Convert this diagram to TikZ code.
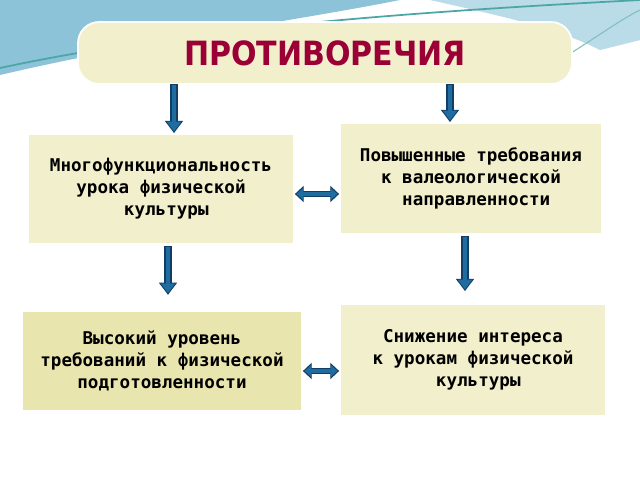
\documentclass[tikz,border=0pt]{standalone}
\usepackage{fontspec}
\setmainfont{DejaVu Sans Mono}
\newfontfamily\titlefont{DejaVu Sans Condensed}
\usetikzlibrary{arrows.meta}
\definecolor{boxfill}{HTML}{F2F0CC}
\definecolor{boxdark}{HTML}{E9E5AE}
\definecolor{arrowblue}{HTML}{1F6CA0}
\definecolor{arrowedge}{HTML}{123E66}
\definecolor{titlered}{HTML}{9A0036}
\definecolor{swoosh}{HTML}{8CC3D8}
\begin{document}
\begin{tikzpicture}[x=0.02cm,y=-0.02cm,
    textbox/.style={fill=boxfill, draw=white, line width=1pt, align=center,
      font=\bfseries\fontsize{10}{12.5}\selectfont, inner sep=0pt},
    blockarrow/.style={line width=4.2pt, draw=arrowedge, -{Triangle[length=7pt,width=10pt]},
      postaction={draw=arrowblue, line width=2.8pt, shorten >=1pt, shorten <=0.6pt,
        -{Triangle[length=5.6pt,width=8pt]}}},
    twoarrow/.style={line width=3.4pt, draw=arrowedge, {Triangle[length=5pt,width=9pt]}-{Triangle[length=5pt,width=9pt]},
      postaction={draw=arrowblue, line width=2pt, shorten >=1pt, shorten <=1pt,
        {Triangle[length=3.8pt,width=6.6pt]}-{Triangle[length=3.8pt,width=6.6pt]}}}]
  \useasboundingbox (0,0) rectangle (640,480);
  \fill[white] (0,0) rectangle (640,480);
  % background swoosh
  \fill[swoosh] (0,0) -- (400,0) .. controls (300,20) and (150,40) .. (0,75) -- cycle;
  \fill[swoosh!60] (430,0) .. controls (520,20) and (560,30) .. (600,50) -- (640,40) -- (640,0) -- cycle;
  \draw[teal!70, line width=1pt] (0,68) .. controls (200,25) and (450,10) .. (640,0);
  \draw[teal!50, line width=0.6pt] (560,60) .. controls (600,35) and (620,20) .. (640,10);
  %nodes
  \node[textbox, rounded corners=12pt, minimum width=494*0.02cm, minimum height=62*0.02cm,
        font=\titlefont\bfseries\fontsize{19}{22}\selectfont, text=titlered]
        (title) at (325,53) {ПРОТИВОРЕЧИЯ};
  \node[textbox, minimum width=266*0.02cm, minimum height=110*0.02cm] (multi) at (161,189)
        {Многофункциональность\\урока физической\\ \ культуры};
  \node[textbox, minimum width=262*0.02cm, minimum height=111*0.02cm] (demand) at (471,178.5)
        {Повышенные требования \\к валеологической \\ \ направленности};
  \node[textbox, fill=boxdark, minimum width=280*0.02cm, minimum height=100*0.02cm] (level) at (162,361)
        {Высокий уровень \\требований к физической\\подготовленности};
  \node[textbox, minimum width=266*0.02cm, minimum height=112*0.02cm] (interest) at (473,360)
        {Снижение интереса \\ к урокам физической \\ \ культуры};
  %arrows
  \coordinate (t1) at (174,84);
  \coordinate (t2) at (450,84);
  \coordinate (m1) at (168,246);
  \coordinate (m2) at (465,236);
  \draw[blockarrow] (t1) -- (multi.north -| t1);
  \draw[blockarrow] (t2) -- (demand.north -| t2);
  \draw[blockarrow] (m1) -- ([yshift=-50*0.02cm]multi.south -| m1);
  \draw[blockarrow] (m2) -- ([yshift=12*0.02cm]interest.north -| m2);
  \draw[twoarrow] ([yshift=-5*0.02cm]multi.east) -- ([yshift=-5*0.02cm]multi.east -| demand.west);
  \draw[twoarrow] ([yshift=-10*0.02cm]level.east) -- ([yshift=-10*0.02cm]level.east -| interest.west);
\end{tikzpicture}
\end{document}
